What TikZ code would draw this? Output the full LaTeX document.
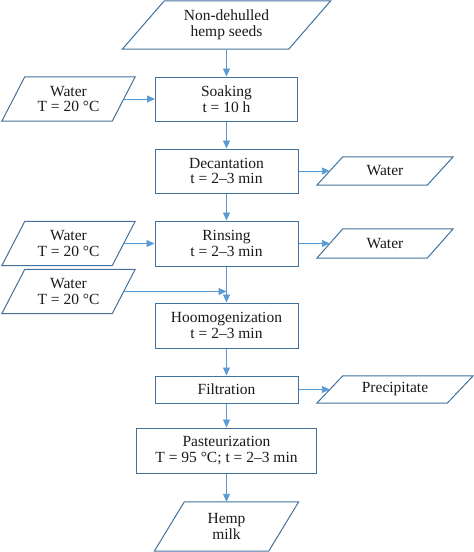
\documentclass[tikz,border=0pt]{standalone}
\usepackage{fontspec}
\setmainfont{Liberation Serif}
\usetikzlibrary{arrows.meta}
\definecolor{boxblue}{HTML}{41719C}
\definecolor{arrowblue}{HTML}{5B9BD5}
\definecolor{txt}{HTML}{1A1A1A}
\tikzset{
  lbl/.style={align=center, text=txt, font=\fontsize{15.5}{15.5}\selectfont, inner sep=0pt},
  box/.style={lbl, draw=boxblue, line width=1pt, fill=white},
  boxline/.style={draw=boxblue, line width=1pt},
  flow/.style={draw=arrowblue, line width=0.9pt, -{Triangle[length=8pt,width=7pt]}},
}
\newcommand\paranode[7]{%
  \node[lbl, minimum width=#4pt, minimum height=#5pt] (#1) at (#2,#3) {#7};
  \draw[boxline] ([xshift=0.5*#6pt]#1.north west) -- ([xshift=0.5*#6pt]#1.north east)
    -- ([xshift=-0.5*#6pt]#1.south east) -- ([xshift=-0.5*#6pt]#1.south west) -- cycle;}
\begin{document}
\begin{tikzpicture}[x=1pt,y=-1pt]
\useasboundingbox (0,0) rectangle (474,552);
\paranode{seeds}{226.5}{25}{166}{48}{42}{Non-dehulled\\hemp seeds}
\node[box, minimum width=142pt, minimum height=44pt] (soak) at (226.5,99) {Soaking\\t = 10 h};
\paranode{w1}{68.5}{99}{110}{44}{23}{Water\\T = 20 °C}
\node[box, minimum width=143pt, minimum height=44pt] (dec) at (226.5,171) {Decantation\\t = 2–3 min};
\paranode{wr1}{385}{171}{110}{28}{26}{Water}
\node[box, minimum width=143pt, minimum height=45pt] (rins) at (226.5,243.5) {Rinsing\\t = 2–3 min};
\paranode{w2}{68.5}{243.5}{110}{44}{23}{Water\\T = 20 °C}
\paranode{wr2}{385}{243.5}{110}{29}{26}{Water}
\paranode{w3}{68.5}{291.5}{110}{44}{23}{Water\\T = 20 °C}
\coordinate (j) at (226.5,291.5);
\node[box, minimum width=143pt, minimum height=45pt] (homo) at (226.5,325.5) {Hoomogenization\\t = 2–3 min};
\node[box, minimum width=143pt, minimum height=27pt] (filt) at (226.5,389.5) {Filtration};
\paranode{prec}{395}{389.5}{130}{27}{26}{Precipitate}
\node[box, minimum width=180pt, minimum height=45pt] (past) at (226.5,450.5) {Pasteurization\\T = 95 °C; t = 2–3 min};
\paranode{milk}{226.5}{526.5}{114}{49}{30}{Hemp\\milk}
\draw[flow] (seeds.south) -- (soak.north);
\draw[flow] (w1.east) -- (soak.west);
\draw[flow] (soak.south) -- (dec.north);
\draw[flow] (dec.east) -- (wr1.west);
\draw[flow] (dec.south) -- (rins.north);
\draw[flow] (w2.east) -- (rins.west);
\draw[flow] (rins.east) -- (wr2.west);
\draw[flow] (rins.south) -- (homo.north);
\draw[flow] (w3.east) -- (j);
\draw[flow] (homo.south) -- (filt.north);
\draw[flow] (filt.east) -- (prec.west);
\draw[flow] (filt.south) -- (past.north);
\draw[flow] (past.south) -- (milk.north);
\end{tikzpicture}
\end{document}
